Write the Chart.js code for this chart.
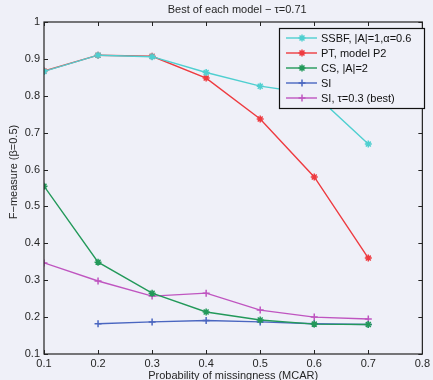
<!DOCTYPE html>
<html>
<head>
<meta charset="utf-8">
<script src="https://cdn.jsdelivr.net/npm/chart.js@4/dist/chart.umd.min.js"></script>
<style>
  html, body { margin: 0; padding: 0; background: #eff0f8; }
  #chart { display: block; }
</style>
</head>
<body>
<canvas id="chart" width="433" height="380"></canvas>
<script>
// probability of missingness (x values)
const missing = [0.1, 0.2, 0.3, 0.4, 0.5, 0.6, 0.7];

// series values
const ssbf    = [0.866, 0.910, 0.906, 0.863, 0.826, 0.805, 0.669];
const ptP2    = [0.867, 0.910, 0.907, 0.848, 0.737, 0.580, 0.360];
const cs      = [0.555, 0.349, 0.265, 0.214, 0.192, 0.181, 0.180];
const si      = [null, 0.182, 0.187, 0.191, 0.187, 0.182, 0.180];
const siBest  = [0.347, 0.298, 0.257, 0.265, 0.219, 0.200, 0.195];

const seriesNames = ['SSBF, |A|=1,\u03b1=0.6', 'PT, model P2', 'CS, |A|=2', 'SI', 'SI, \u03c4=0.3 (best)'];
const seriesColors = ['#4fcfd0', '#ee3b40', '#23995a', '#4a66c0', '#bf55c0'];
const seriesMarkers = ['star', 'star', 'star', 'cross', 'cross'];

const xTicks = [0.1, 0.2, 0.3, 0.4, 0.5, 0.6, 0.7, 0.8];
const yTicks = [0.1, 0.2, 0.3, 0.4, 0.5, 0.6, 0.7, 0.8, 0.9, 1];

const titleText = 'Best of each model \u2212 \u03c4=0.71';
const xTitle = 'Probability of missingness (MCAR)';
const yTitle = 'F\u2212measure (\u03b2=0.5)';

const FONT = '"Liberation Sans", Arial, sans-serif';

function toPoints(values) {
    return values.map((v, i) => ({ x: missing[i], y: v })).filter(p => p.y !== null);
}

const allSeries = [ssbf, ptP2, cs, si, siBest];
const datasets = allSeries.map((vals, i) => ({
    label: seriesNames[i],
    data: toPoints(vals),
    borderColor: seriesColors[i],
    backgroundColor: seriesColors[i],
    borderWidth: 1.4,
    pointStyle: seriesMarkers[i],
    pointRadius: 3.5,
    pointBorderWidth: 1.5,
    pointHoverRadius: 3.5,
    tension: 0
}));

// frame, inward ticks, titles and boxed legend like the MATLAB figure
const matlabDecor = {
    id: 'matlabDecor',
    afterDraw(chart) {
        const ctx = chart.ctx;
        const a = chart.chartArea;
        const xs = chart.scales.x, ys = chart.scales.y;
        ctx.save();

        ctx.strokeStyle = '#222';
        ctx.lineWidth = 1.2;
        ctx.strokeRect(a.left, a.top, a.right - a.left, a.bottom - a.top);

        ctx.lineWidth = 1;
        const tl = 4;
        xTicks.forEach(v => {
            const px = Math.round(xs.getPixelForValue(v)) + 0.5;
            ctx.beginPath();
            ctx.moveTo(px, a.bottom); ctx.lineTo(px, a.bottom - tl);
            ctx.moveTo(px, a.top); ctx.lineTo(px, a.top + tl);
            ctx.stroke();
        });
        yTicks.forEach(v => {
            const py = Math.round(ys.getPixelForValue(v)) + 0.5;
            ctx.beginPath();
            ctx.moveTo(a.left, py); ctx.lineTo(a.left + tl, py);
            ctx.moveTo(a.right, py); ctx.lineTo(a.right - tl, py);
            ctx.stroke();
        });

        ctx.fillStyle = '#262626';
        ctx.textAlign = 'center';
        ctx.textBaseline = 'middle';
        ctx.font = '11px ' + FONT;
        ctx.fillText(titleText, (a.left + a.right) / 2 + 4, 10);
        ctx.fillText(xTitle, (a.left + a.right) / 2, 376);
        ctx.save();
        ctx.translate(14, 172);
        ctx.rotate(-Math.PI / 2);
        ctx.fillText(yTitle, 0, 0);
        ctx.restore();

        // legend box
        const lx = 279, ly = 28, lw = 145, lh = 80;
        ctx.fillStyle = '#eff0f8';
        ctx.fillRect(lx, ly, lw, lh);
        ctx.strokeStyle = '#111';
        ctx.lineWidth = 1.2;
        ctx.strokeRect(lx + 0.5, ly + 0.5, lw, lh);
        ctx.textAlign = 'left';
        ctx.font = '11px ' + FONT;
        chart.data.datasets.forEach((ds, i) => {
            const y = ly + 10 + i * 15;
            ctx.strokeStyle = ds.borderColor;
            ctx.lineWidth = 1.4;
            ctx.beginPath();
            ctx.moveTo(lx + 7, y); ctx.lineTo(lx + 38, y);
            ctx.stroke();
            ctx.fillStyle = ds.borderColor;
            ctx.lineWidth = 1.5;
            Chart.helpers.drawPoint(ctx, {
                pointStyle: ds.pointStyle, radius: 3.5, borderWidth: 1.5, rotation: 0
            }, lx + 23, y);
            ctx.fillStyle = '#111';
            ctx.fillText(ds.label, lx + 42, y + 0.5);
        });

        ctx.restore();
    }
};

const ctx = document.getElementById('chart').getContext('2d');
const chart = new Chart(ctx, {
    type: 'line',
    data: { datasets: datasets },
    options: {
        responsive: false,
        animation: false,
        layout: { padding: { top: 22, right: 8, left: 0, bottom: 0 } },
        plugins: {
            legend: { display: false },
            title: { display: false },
            tooltip: { enabled: false }
        },
        scales: {
            x: {
                type: 'linear',
                min: 0.1,
                max: 0.8,
                afterFit: s => { s.height = 26; },
                afterBuildTicks: s => { s.ticks = xTicks.map(v => ({ value: v })); },
                grid: { display: false, drawTicks: false },
                border: { display: false },
                ticks: {
                    padding: 3,
                    color: '#262626',
                    font: { family: FONT, size: 11 },
                    maxRotation: 0,
                    callback: v => String(+v.toFixed(1))
                }
            },
            y: {
                type: 'linear',
                min: 0.1,
                max: 1,
                afterFit: s => { s.width = 44; },
                afterBuildTicks: s => { s.ticks = yTicks.map(v => ({ value: v })); },
                grid: { display: false, drawTicks: false },
                border: { display: false },
                ticks: {
                    padding: 4,
                    color: '#262626',
                    font: { family: FONT, size: 11 },
                    callback: v => String(+v.toFixed(1))
                }
            }
        }
    },
    plugins: [matlabDecor]
});
</script>
</body>
</html>
